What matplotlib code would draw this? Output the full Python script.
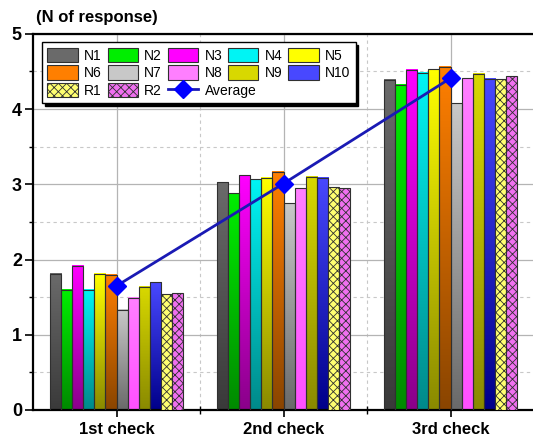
import numpy as np
import matplotlib
matplotlib.use("Agg")
import matplotlib.pyplot as plt
from matplotlib.patches import Patch
from matplotlib.lines import Line2D
from matplotlib.colors import to_rgb

plt.rcParams['font.family'] = ['Liberation Sans', 'DejaVu Sans']
plt.rcParams['hatch.linewidth'] = 0.6

categories = ["1st check", "2nd check", "3rd check"]
series = ["N1", "N2", "N3", "N4", "N5", "N6", "N7", "N8", "N9", "N10", "R1", "R2"]
values = {
    "N1":  [1.81, 3.03, 4.39],
    "N2":  [1.60, 2.88, 4.32],
    "N3":  [1.92, 3.12, 4.52],
    "N4":  [1.60, 3.07, 4.48],
    "N5":  [1.81, 3.09, 4.53],
    "N6":  [1.80, 3.17, 4.56],
    "N7":  [1.33, 2.75, 4.08],
    "N8":  [1.49, 2.95, 4.41],
    "N9":  [1.64, 3.10, 4.47],
    "N10": [1.70, 3.09, 4.40],
    "R1":  [1.54, 2.97, 4.40],
    "R2":  [1.56, 2.95, 4.44],
}
average = [1.65, 3.01, 4.41]

# top colour, bottom colour
colors = {
    "N1":  ("#6a6a6a", "#3a3a3a"),
    "N2":  ("#00ee00", "#008a00"),
    "N3":  ("#ff00ff", "#8a008a"),
    "N4":  ("#00f4f4", "#008a8a"),
    "N5":  ("#ffff00", "#8a8a00"),
    "N6":  ("#ff7f00", "#8a4500"),
    "N7":  ("#c8c8c8", "#6a6a6a"),
    "N8":  ("#ff7fff", "#ff50ff"),
    "N9":  ("#d8d800", "#8a8a00"),
    "N10": ("#4848ff", "#00008a"),
    "R1":  ("#ffff70", "#ffff70"),
    "R2":  ("#f070f0", "#f070f0"),
}
hatched = {"R1", "R2"}

fig = plt.figure(figsize=(5.33, 4.41), dpi=100)
ax = fig.add_axes([0.062, 0.0703, 0.94, 0.853])

x = np.arange(len(categories))
n = len(series)
group_w = 0.80
bw = group_w / n

ax.set_xlim(-0.5, 2.5)
ax.set_ylim(0, 5)

for i, s in enumerate(series):
    top, bot = colors[s]
    pos = x - group_w / 2 + bw * (i + 0.5)
    for xi, v in zip(pos, values[s]):
        if s in hatched:
            ax.bar(xi, v, width=bw, facecolor=top, edgecolor="#303030",
                   hatch="xxxx", linewidth=0.8, zorder=3)
        else:
            t = np.array(to_rgb(top)); b = np.array(to_rgb(bot))
            f = np.linspace(0, 1, 64)[:, None]
            grad = (b + (t - b) * f)[:, None, :]
            ax.imshow(grad, extent=[xi - bw / 2, xi + bw / 2, 0, v],
                      origin="lower", aspect="auto", interpolation="bilinear",
                      zorder=2)
            ax.bar(xi, v, width=bw, facecolor="none", edgecolor="#303030",
                   linewidth=0.8, zorder=3)

ax.set_xlim(-0.5, 2.5)
ax.set_ylim(0, 5)

ax.plot(x, average, color="#1a1ab4", linewidth=2, marker="D", markersize=9,
        markerfacecolor="#0000ff", markeredgecolor="#0000ff", zorder=5)

# grid
ax.set_xticks(x)
ax.set_xticks([0.5, 1.5], minor=True)
ax.set_yticks([0, 1, 2, 3, 4, 5])
ax.set_yticks([0.5, 1.5, 2.5, 3.5, 4.5], minor=True)
ax.grid(True, which="major", color="#b4b4b4", linewidth=0.9, zorder=0)
ax.grid(True, which="minor", color="#c8c8c8", linewidth=0.8,
        linestyle=(0, (3, 3)), zorder=0)
ax.set_axisbelow(True)

ax.set_xticklabels(categories, fontsize=12, fontweight="bold")
ax.set_yticklabels([str(v) for v in range(6)], fontsize=13, fontweight="bold")
ax.tick_params(axis="y", which="major", direction="out", length=6, width=1.2, pad=2)
ax.tick_params(axis="y", which="minor", direction="out", length=3, width=1.0)
ax.tick_params(axis="x", which="major", direction="inout", length=10, width=1.2, pad=4)
ax.tick_params(axis="x", which="minor", direction="inout", length=6, width=1.0)

for sp in ["left", "bottom", "top"]:
    ax.spines[sp].set_linewidth(1.6)
ax.spines["right"].set_visible(False)

fig.text(0.068, 0.96, "(N of response)", fontsize=12, fontweight="bold",
         ha="left", va="center")

# legend
handles = {}
for s in series:
    top, bot = colors[s]
    if s in hatched:
        handles[s] = Patch(facecolor=top, edgecolor="#303030", hatch="xxxx", linewidth=0.8)
    else:
        handles[s] = Patch(facecolor=top, edgecolor="#303030", linewidth=0.8)
handles["Average"] = Line2D([0], [0], color="#1a1ab4", linewidth=2, marker="D",
                            markersize=9, markerfacecolor="#0000ff",
                            markeredgecolor="#0000ff")
order = ["N1", "N6", "R1", "N2", "N7", "R2", "N3", "N8", "Average",
         "N4", "N9", "N5", "N10"]
labels = [("" if k == "Average" else k) for k in order]
leg = ax.legend([handles[k] for k in order], labels, ncol=5,
                loc="upper left", bbox_to_anchor=(0.012, 0.985),
                fontsize=10, frameon=True, fancybox=False,
                shadow={"color": "black", "alpha": 1},
                edgecolor="black", handlelength=2.2, handleheight=1.2,
                columnspacing=0.4, handletextpad=0.45, labelspacing=0.2,
                borderpad=0.4, borderaxespad=0.2)
leg.get_frame().set_linewidth(1.0)
leg.set_zorder(10)

# "Average" label overflows into the next column, as in the original
fig.canvas.draw()
texts = leg.get_texts()
avg_bb = texts[order.index("Average")].get_window_extent()
r1_bb = texts[order.index("R1")].get_window_extent()
inv = fig.transFigure.inverted()
px, py = inv.transform((avg_bb.x0, r1_bb.y0))
avg_txt = fig.text(px, py, "Average", fontsize=10, ha="left", va="bottom",
                   zorder=11)

fig.savefig("out.png", dpi=100)
